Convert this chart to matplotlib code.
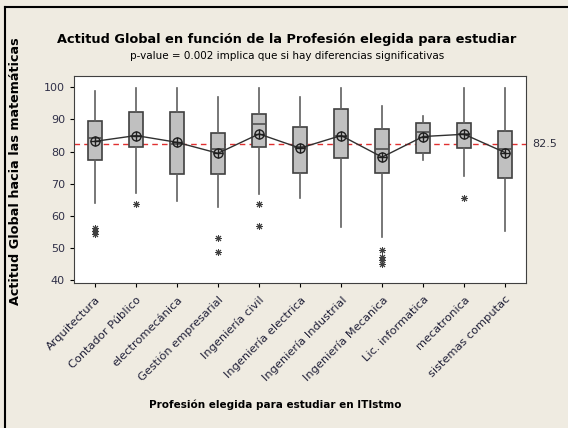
import numpy as np
import matplotlib
matplotlib.use("Agg")
import matplotlib.pyplot as plt
from matplotlib.lines import Line2D

# Datos (Minitab)
carreras = ["Arquitectura", "Contador Público", "electromecánica",
            "Gestión empresarial", "Ingeniería civil", "Ingeniería electrica",
            "Ingeniería Industrial", "Ingeniería Mecanica", "Lic. informatica",
            "mecatronica", "sistemas computac"]
bigote_sup = [98.9, 99.7, 99.7, 96.9, 99.7, 96.9, 99.7, 94.3, 91.2, 99.7, 99.7]
q3 = [89.6, 92.4, 92.4, 85.7, 91.6, 87.6, 93.2, 87.0, 88.8, 88.8, 86.5]
mediana = [84.3, 85.0, 82.4, 80.7, 88.6, 81.6, 85.0, 80.8, 86.0, 85.6, 80.8]
q1 = [77.4, 81.5, 73.0, 73.0, 81.5, 73.3, 78.0, 73.3, 79.5, 81.1, 71.7]
bigote_inf = [64.0, 67.1, 64.7, 62.7, 66.8, 65.7, 56.5, 53.4, 77.4, 72.5, 55.5]
media = [83.2, 85.0, 82.9, 79.5, 85.5, 81.1, 85.0, 78.3, 84.7, 85.4, 79.7]
atipicos = [[56.4, 55.3, 54.5], [63.8], [], [53.1, 48.8], [63.8, 57.0], [],
            [], [49.5, 47.4, 46.4, 45.0], [], [65.5], []]
media_global = 82.5

fondo = "#EFEBE1"
fig = plt.figure(figsize=(5.68, 4.28), dpi=100, facecolor=fondo)
ax = fig.add_axes([0.1303, 0.3381, 0.7952, 0.4843])
ax.set_facecolor("white")

stats = []
for i in range(len(carreras)):
    stats.append(dict(whishi=bigote_sup[i], q3=q3[i], med=mediana[i], q1=q1[i],
                      whislo=bigote_inf[i], fliers=atipicos[i], label=carreras[i]))

pos = np.arange(1, len(carreras) + 1)
ax.bxp(stats, positions=pos, widths=0.34, patch_artist=True, showcaps=False,
       boxprops=dict(facecolor="#C0C0C0", edgecolor="#404040", linewidth=1.2),
       medianprops=dict(color="#505050", linewidth=1.2),
       whiskerprops=dict(color="#606060", linewidth=1.2),
       flierprops=dict(marker=(8, 2, 0), markersize=5, markeredgecolor="#404040",
                       markeredgewidth=0.7, linestyle="none"))

# Línea de referencia (media global)
ax.axhline(media_global, color="#E03030", linestyle=(0, (4, 3)), linewidth=1, zorder=1)
ax.text(11.65, media_global, "82.5", va="center", ha="left", fontsize=8,
        color="#303040")

# Medias conectadas
ax.plot(pos, media, color="#303030", linewidth=1, zorder=4)
ax.plot(pos, media, linestyle="none", marker="o", markersize=6.5,
        markerfacecolor="none", markeredgecolor="#202020", markeredgewidth=1, zorder=5)
ax.plot(pos, media, linestyle="none", marker="+", markersize=6.5,
        markeredgecolor="#202020", markeredgewidth=1, zorder=5)

ax.set_xlim(0.49, 11.5)
ax.set_ylim(39.1, 103.5)
ax.set_yticks([40, 50, 60, 70, 80, 90, 100])
ax.tick_params(axis="y", labelsize=8, labelcolor="#303048", length=3)
ax.tick_params(axis="x", length=3, pad=5)
ax.set_xticks(pos)
ax.set_xticklabels(carreras, rotation=45, ha="right", rotation_mode="anchor",
                   fontsize=8.2, color="#202038")
for s in ax.spines.values():
    s.set_color("#404040")

ax.set_ylabel("Actitud Global hacia las matemáticas", fontsize=9.2, fontweight="bold")
ax.yaxis.set_label_coords(-0.115, 0.54)
fig.text(0.484, 1 - 405 / 428, "Profesión elegida para estudiar en ITIstmo",
         ha="center", va="center", fontsize=7.5, fontweight="bold")
fig.text(0.505, 1 - 40 / 428, "Actitud Global en función de la Profesión elegida para estudiar",
         ha="center", va="center", fontsize=9.3, fontweight="bold")
fig.text(0.505, 1 - 56 / 428, "p-value = 0.002 implica que si hay diferencias significativas",
         ha="center", va="center", fontsize=7.5)

# marco de la imagen
fig.add_artist(Line2D([5 / 568, 1], [1 - 7 / 428, 1 - 7 / 428], color="black",
                      linewidth=1.5, transform=fig.transFigure))
fig.add_artist(Line2D([5 / 568, 5 / 568], [0, 1 - 7 / 428], color="black",
                      linewidth=1.5, transform=fig.transFigure))

fig.savefig("out.png", dpi=100, facecolor=fondo)
